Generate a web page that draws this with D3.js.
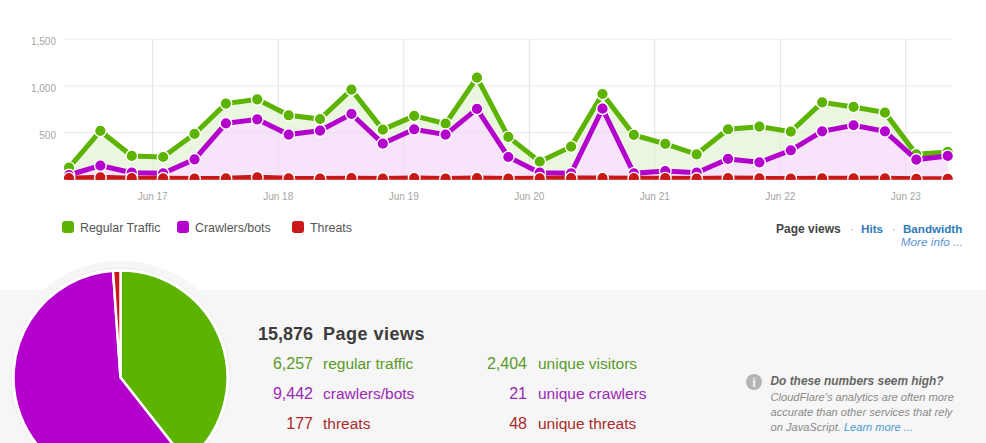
<!DOCTYPE html>
<html><head><meta charset="utf-8">
<style>
html,body{margin:0;padding:0;background:#fff;overflow:hidden}
svg{display:block}
text{font-family:"Liberation Sans",Arial,sans-serif}
</style>
<script src="https://cdn.jsdelivr.net/npm/d3@7/dist/d3.min.js"></script>
</head><body><svg id="c" width="986" height="443"></svg>
<script>
const startTime = "2013-06-16T08:00:00";
const regularTop = [125,518,250,239,486,811,857,686,646,961,532,679,596,1089,454,189,350,914,475,379,268,536,564,511,825,775,714,268,293];
const crawlersTop = [46,146,71,64,214,600,643,479,521,700,382,536,479,754,239,71,64,757,64,89,71,218,182,311,514,579,514,211,250];
const threatsTop = [12,22,12,10,8,10,22,10,8,12,8,14,8,14,8,10,14,14,12,12,8,14,10,8,10,10,10,5,5];
const yTicks = [0,500,1000,1500];
const dayTicks = ["2013-06-17","2013-06-18","2013-06-19","2013-06-20","2013-06-21","2013-06-22","2013-06-23"];
const seriesNames = ["Regular Traffic","Crawlers/bots","Threats"];
const seriesColors = ["#5cb300","#b300cc","#c81818"];
const pieValues = [6257,9442,177];
const statLeftNums = ["6,257","9,442","177"];
const statLeftLabels = ["regular traffic","crawlers/bots","threats"];
const statRightNums = ["2,404","21","48"];
const statRightLabels = ["unique visitors","unique crawlers","unique threats"];
const statColors = ["#5a9a28","#9c28b4","#ab2a2a"];
const noteLines = ["CloudFlare's analytics are often more","accurate than other services that rely"];

const svg = d3.select("#c");
const t0 = new Date(startTime);
const times = regularTop.map((_,i)=>d3.timeHour.offset(t0,i*6));
const x = d3.scaleTime().domain([t0,times[times.length-1]]).range([69,947.7]);
const y = d3.scaleLinear().domain([0,1500]).range([179.3,39.3]);
const parseDay = d3.timeParse("%Y-%m-%d");

// gridlines
yTicks.forEach(v=>svg.append("line").attr("x1",63).attr("x2",953).attr("y1",y(v)).attr("y2",y(v)).attr("stroke","#f0f0f0").attr("stroke-width",1));
dayTicks.forEach(d=>{const X=x(parseDay(d));
  svg.append("line").attr("x1",X).attr("x2",X).attr("y1",39.3).attr("y2",184).attr("stroke","#eeeeee");
});

// stacked areas
const defs = svg.append("defs");
defs.append("clipPath").attr("id","plot").append("rect").attr("x",63).attr("y",30).attr("width",890).attr("height",149.8);
const g = svg.append("g").attr("clip-path","url(#plot)");
const tops = [regularTop,crawlersTop,threatsTop];
const area = d3.area().x((d,i)=>x(times[i])).y0(y(0)).y1(d=>y(d));
const line = d3.line().x((d,i)=>x(times[i])).y(d=>y(d));
const fills = ["#eaf6e0","#f7e3fa","#f6dada"];
tops.forEach((s,k)=>g.append("path").attr("d",area(s)).attr("fill",fills[k]));
yTicks.slice(1,3).forEach(v=>g.append("line").attr("x1",63).attr("x2",953).attr("y1",y(v)).attr("y2",y(v)).attr("stroke","#000").attr("stroke-opacity",0.03));
dayTicks.forEach(d=>{const X=x(parseDay(d));
  g.append("line").attr("x1",X).attr("x2",X).attr("y1",39.3).attr("y2",184).attr("stroke","#000").attr("stroke-opacity",0.05);
});
tops.forEach((s,k)=>{
  g.append("path").attr("d",line(s)).attr("fill","none").attr("stroke",seriesColors[k]).attr("stroke-width",5);
  g.selectAll(null).data(s).join("circle").attr("cx",(d,i)=>x(times[i])).attr("cy",d=>y(d)).attr("r",5.8)
    .attr("fill",seriesColors[k]).attr("stroke","#fff").attr("stroke-width",1.4);
});

// tick labels
dayTicks.forEach(d=>{
  svg.append("text").attr("x",x(parseDay(d))).attr("y",199.5).attr("text-anchor","middle").attr("font-size",10).attr("fill","#a5a5a5").text(d3.timeFormat("Jun %d")(parseDay(d)));
});
yTicks.slice(1).forEach(v=>svg.append("text").attr("x",56).attr("y",y(v)+6).attr("text-anchor","end").attr("font-size",10).attr("fill","#a5a5a5").text(d3.format(",")(v)));

// legend
const lx=[62,177,292], tx=[80,195,310];
seriesNames.forEach((n,i)=>{
  svg.append("rect").attr("x",lx[i]).attr("y",221).attr("width",12).attr("height",12).attr("rx",3).attr("fill",seriesColors[i]);
  svg.append("text").attr("x",tx[i]).attr("y",232).attr("font-size",12.4).attr("fill","#555").text(n);
});

// right links
svg.append("text").attr("x",776).attr("y",232.5).attr("font-size",12).attr("font-weight","bold").attr("fill","#444").text("Page views");
svg.append("text").attr("x",850).attr("y",232.5).attr("font-size",12).attr("fill","#aaa").text("·");
svg.append("text").attr("x",861).attr("y",232.5).attr("font-size",11.7).attr("font-weight","bold").attr("fill","#2f7ab8").text("Hits");
svg.append("text").attr("x",892).attr("y",232.5).attr("font-size",12).attr("fill","#aaa").text("·");
svg.append("text").attr("x",903).attr("y",232.5).attr("font-size",11.6).attr("font-weight","bold").attr("fill","#2f7ab8").text("Bandwidth");
svg.append("text").attr("x",963).attr("y",245.5).attr("text-anchor","end").attr("font-size",11.8).attr("font-style","italic").attr("fill","#5b93d6").text("More info ...");

// panel
svg.append("rect").attr("x",0).attr("y",290).attr("width",986).attr("height",153).attr("fill","#f6f6f6");

// pie
const cx=120.5, cy=377.5, R=107;
svg.append("circle").attr("cx",cx).attr("cy",cy).attr("r",R+10).attr("fill","#f6f6f6");
svg.append("circle").attr("cx",cx).attr("cy",cy).attr("r",R+2.5).attr("fill","#fff").attr("stroke","#ececec").attr("stroke-width",1);
const pie = d3.pie().sort(null)(pieValues);
const arc = d3.arc().innerRadius(0).outerRadius(R);
svg.append("g").attr("transform",`translate(${cx},${cy})`).selectAll("path").data(pie).join("path")
  .attr("d",arc).attr("fill",(d,i)=>seriesColors[i]).attr("stroke","#fff").attr("stroke-width",2.5).attr("stroke-linejoin","round");

// stats
svg.append("text").attr("x",313).attr("y",340).attr("text-anchor","end").attr("font-size",18).attr("font-weight","bold").attr("fill","#3c3c3c").text("15,876");
svg.append("text").attr("x",323).attr("y",340).attr("font-size",18).attr("font-weight","bold").attr("letter-spacing",0.5).attr("fill","#3c3c3c").text("Page views");
[369,399,429].forEach((yy,i)=>{
  svg.append("text").attr("x",313).attr("y",yy).attr("text-anchor","end").attr("font-size",16).attr("fill",statColors[i]).text(statLeftNums[i]);
  svg.append("text").attr("x",323).attr("y",yy).attr("font-size",15.5).attr("fill",statColors[i]).text(statLeftLabels[i]);
  svg.append("text").attr("x",527).attr("y",yy).attr("text-anchor","end").attr("font-size",16).attr("fill",statColors[i]).text(statRightNums[i]);
  svg.append("text").attr("x",538).attr("y",yy).attr("font-size",15.5).attr("fill",statColors[i]).text(statRightLabels[i]);
});

// note
svg.append("circle").attr("cx",754).attr("cy",382).attr("r",8).attr("fill","#b4b4b4");
svg.append("text").attr("x",754).attr("y",387).attr("text-anchor","middle").attr("font-size",13).attr("font-weight","bold").attr("font-family","Liberation Serif").attr("fill","#f6f6f6").text("i");
svg.append("text").attr("x",770.5).attr("y",385).attr("font-size",11.9).attr("font-weight","bold").attr("font-style","italic").attr("fill","#666").text("Do these numbers seem high?");
noteLines.forEach((t,i)=>svg.append("text").attr("x",770.5).attr("y",401+15*i).attr("font-size",11.1).attr("font-style","italic").attr("fill","#8a8a8a").text(t));
const last = svg.append("text").attr("x",770.5).attr("y",431).attr("font-size",11.1).attr("font-style","italic").attr("fill","#8a8a8a").text("on JavaScript. ");
last.append("tspan").attr("fill","#4a9ad4").text("Learn more ...");
</script></body></html>
